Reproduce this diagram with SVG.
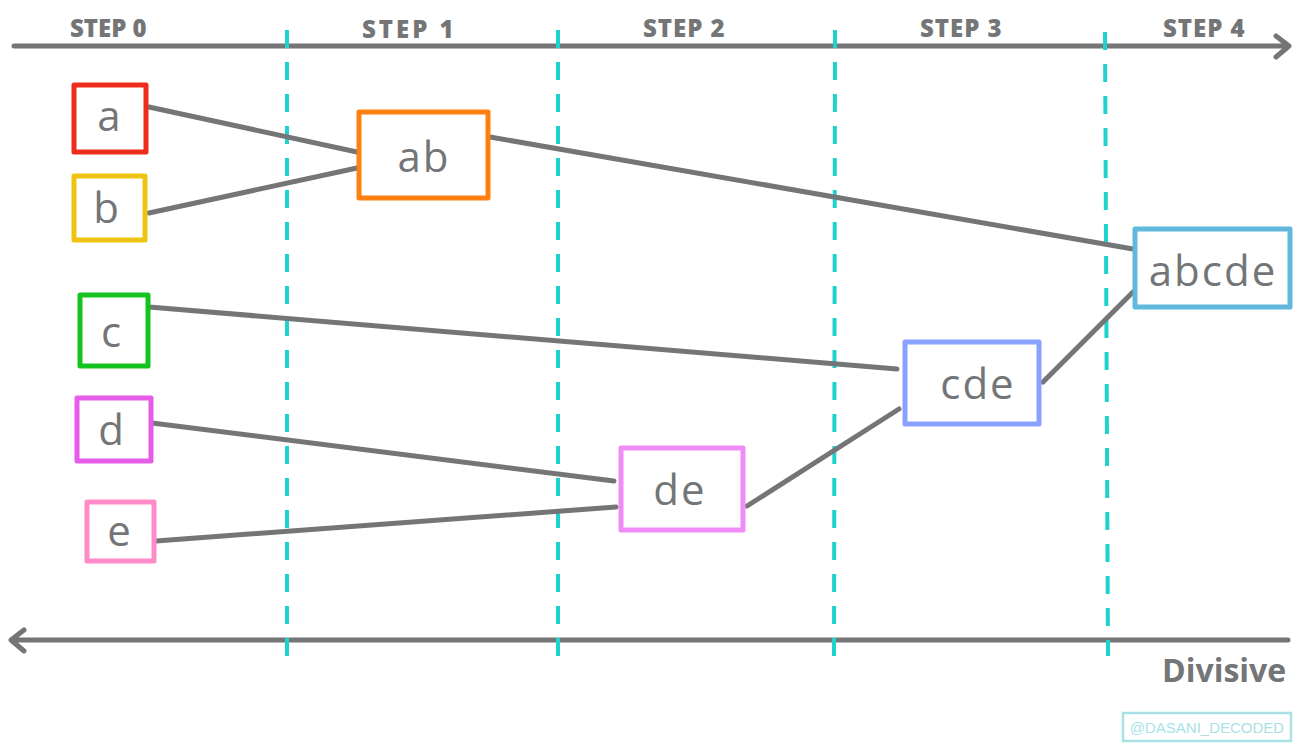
<svg xmlns="http://www.w3.org/2000/svg" width="1300" height="745" viewBox="0 0 1300 745">
<style>
.axis{stroke:#737577;stroke-width:5;fill:none;stroke-linecap:round;stroke-linejoin:round}
.div{stroke:#1fd3cc;stroke-width:4;stroke-dasharray:18 14;fill:none}
.edge{stroke:#737577;stroke-width:5;fill:none;stroke-linecap:round}
.box{fill:#fff;stroke-width:5;stroke-linejoin:round}
.step{font-family:"Open Sans","DejaVu Sans",sans-serif;font-weight:800;font-size:24px;fill:#737577}
.lbl{font-family:"Open Sans","DejaVu Sans",sans-serif;font-size:42px;fill:#737577;text-anchor:middle;letter-spacing:2px}
</style>
<rect width="1300" height="745" fill="#fff"/>
<g id="axes">
<path class="axis" d="M14 46 H1288 M1276 36 L1289 46 L1276 57"/>
<path class="axis" d="M12 640 H1288 M24 630 L11 640 L24 651"/>
</g>
<g id="dividers">
<line class="div" x1="287" y1="30" x2="287" y2="658"/>
<line class="div" x1="558" y1="30" x2="558" y2="658"/>
<line class="div" x1="835" y1="30" x2="834" y2="658"/>
<line class="div" x1="1105" y1="32" x2="1108" y2="656"/>
</g>
<g id="steps">
<text class="step" x="70" y="37" letter-spacing="0">STEP 0</text>
<text class="step" x="362" y="38" letter-spacing="3">STEP 1</text>
<text class="step" x="643" y="37" letter-spacing="1">STEP 2</text>
<text class="step" x="920" y="37" letter-spacing="1">STEP 3</text>
<text class="step" x="1163" y="37" letter-spacing="1">STEP 4</text>
</g>
<g id="connectors">
<line class="edge" x1="149" y1="107" x2="357" y2="152"/>
<line class="edge" x1="149" y1="213" x2="357" y2="168"/>
<line class="edge" x1="490" y1="137" x2="1133" y2="249"/>
<line class="edge" x1="149" y1="307" x2="897" y2="369"/>
<line class="edge" x1="152" y1="423" x2="614" y2="481"/>
<line class="edge" x1="156" y1="541" x2="616" y2="507"/>
<line class="edge" x1="747" y1="506" x2="899" y2="409"/>
<line class="edge" x1="1043" y1="382" x2="1133" y2="292"/>
</g>
<g id="node-a">
<rect class="box" x="74" y="85" width="72" height="67" stroke="#ee2c1c"/>
<text class="lbl" x="110" y="131">a</text>
</g>
<g id="node-b">
<rect class="box" x="74" y="176" width="71" height="64" stroke="#efc514"/>
<text class="lbl" x="107" y="223">b</text>
</g>
<g id="node-c">
<rect class="box" x="80" y="295" width="68" height="71" stroke="#14c41e"/>
<text class="lbl" x="112" y="347">c</text>
</g>
<g id="node-d">
<rect class="box" x="77" y="398" width="74" height="63" stroke="#e65ce8"/>
<text class="lbl" x="112" y="445">d</text>
</g>
<g id="node-e">
<rect class="box" x="87" y="502" width="67" height="59" stroke="#ff8cc8"/>
<text class="lbl" x="120" y="546">e</text>
</g>
<g id="node-ab">
<rect class="box" x="359" y="112" width="129" height="86" stroke="#ff800e"/>
<text class="lbl" x="424" y="172" letter-spacing="10">ab</text>
</g>
<g id="node-de">
<rect class="box" x="621" y="448" width="122" height="82" stroke="#f08cf8"/>
<text class="lbl" x="680" y="505">de</text>
</g>
<g id="node-cde">
<rect class="box" x="905" y="342" width="134" height="82" stroke="#8aa2ff"/>
<text class="lbl" x="978" y="399">cde</text>
</g>
<g id="node-abcde">
<rect class="box" x="1135" y="229" width="155" height="78" stroke="#60b8dc"/>
<text class="lbl" x="1213" y="286" letter-spacing="0">abcde</text>
</g>
<g id="labels">
<text x="1162" y="682" font-family="Open Sans, DejaVu Sans, sans-serif" font-weight="700" font-size="32" fill="#737577">Divisive</text>
<rect x="1123" y="713" width="168" height="28" fill="none" stroke="#a9e2e6" stroke-width="2.5"/>
<text x="1207" y="733" text-anchor="middle" font-family="Liberation Sans, sans-serif" font-size="15" fill="#a9e2e6">@DASANI_DECODED</text>
</g>
</svg>
